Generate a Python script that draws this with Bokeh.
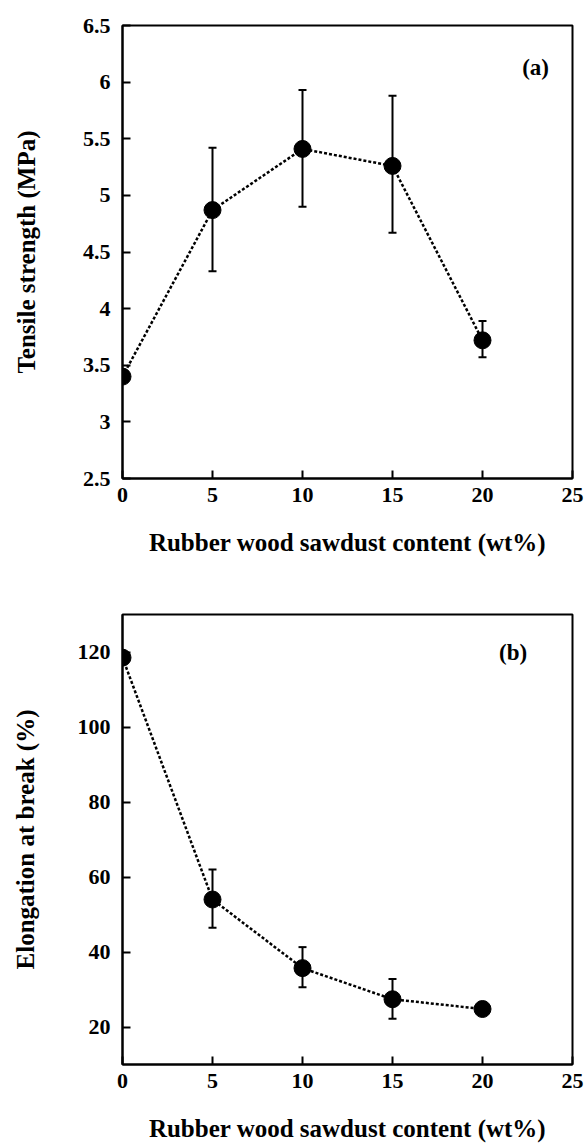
from bokeh.plotting import figure
from bokeh.layouts import column
from bokeh.models import ColumnDataSource, Whisker, TeeHead, FixedTicker, Label, Range1d
from bokeh.embed import file_html
from bokeh.resources import INLINE

# ---- data ----
content = [0, 5, 10, 15, 20]
tensile = [3.40, 4.87, 5.41, 5.26, 3.72]
tensile_low = [3.40, 4.33, 4.90, 4.67, 3.57]
tensile_high = [3.40, 5.42, 5.93, 5.88, 3.89]
elong = [118.5, 54.0, 35.7, 27.4, 24.8]
elong_low = [118.5, 46.5, 30.6, 22.2, 23.6]
elong_high = [118.5, 62.0, 41.3, 32.8, 26.0]

x_ticks = [0, 5, 10, 15, 20, 25]
x_labels = ["0", "5", "10", "15", "20", "25"]
ya_ticks = [2.5, 3, 3.5, 4, 4.5, 5, 5.5, 6, 6.5]
ya_labels = ["2.5", "3", "3.5", "4", "4.5", "5", "5.5", "6", "6.5"]
yb_ticks = [20, 40, 60, 80, 100, 120]
yb_labels = ["20", "40", "60", "80", "100", "120"]

x_title = "Rubber wood sawdust content (wt%)"
ya_title = "Tensile strength (MPa)"
yb_title = "Elongation at break (%)"

FONT = "Liberation Serif"


def style(p, xt, xl, yt, yl, y_standoff):
    p.outline_line_color = "black"
    p.outline_line_width = 2
    p.xgrid.visible = False
    p.ygrid.visible = False
    p.background_fill_color = "white"
    p.border_fill_color = "white"
    for ax in (p.xaxis[0], p.yaxis[0]):
        ax.axis_line_width = 2
        ax.axis_line_color = "black"
        ax.major_tick_in = 8
        ax.major_tick_out = 0
        ax.major_tick_line_width = 2
        ax.minor_tick_in = 0
        ax.minor_tick_out = 0
        ax.major_label_text_font = FONT
        ax.major_label_text_font_style = "bold"
        ax.major_label_text_font_size = "22px"
        ax.major_label_text_color = "black"
        ax.axis_label_text_font = FONT
        ax.axis_label_text_font_style = "bold"
        ax.axis_label_text_font_size = "25px"
        ax.axis_label_text_color = "black"
    p.xaxis[0].ticker = FixedTicker(ticks=xt)
    p.xaxis[0].major_label_overrides = {t: s for t, s in zip(xt, xl)}
    p.yaxis[0].ticker = FixedTicker(ticks=yt)
    p.yaxis[0].major_label_overrides = {t: s for t, s in zip(yt, yl)}
    p.xaxis[0].major_label_standoff = 9
    p.xaxis[0].axis_label_standoff = 24
    p.yaxis[0].major_label_standoff = 12
    p.yaxis[0].axis_label_standoff = y_standoff


def panel(y, low, high, yr, yt, yl, ytitle, tag, tagx, tagy, borders, height, standoff):
    src = ColumnDataSource(dict(x=content, y=y, low=low, high=high))
    p = figure(width=587, height=height, x_range=Range1d(0, 25), y_range=Range1d(*yr),
               output_backend="svg", toolbar_location=None,
               min_border_left=borders[0], min_border_right=borders[1],
               min_border_top=borders[2], min_border_bottom=borders[3],
               x_axis_label=x_title, y_axis_label=ytitle)
    style(p, x_ticks, x_labels, yt, yl, standoff)
    p.line("x", "y", source=src, line_color="black", line_width=2.5, line_dash="3 2")
    w = Whisker(base="x", lower="low", upper="high", source=src,
                line_color="black", line_width=2,
                upper_head=TeeHead(size=8, line_color="black", line_width=2),
                lower_head=TeeHead(size=8, line_color="black", line_width=2))
    p.add_layout(w)
    p.scatter("x", "y", source=src, size=17, fill_color="black", line_color="black")
    p.add_layout(Label(x=tagx, y=tagy, text=tag, text_font=FONT, text_font_style="bold",
                       text_font_size="23px", text_align="center", text_baseline="middle",
                       text_color="black"))
    return p


p1 = panel(tensile, tensile_low, tensile_high, (2.5, 6.5), ya_ticks, ya_labels, ya_title,
           "(a)", 22.95, 6.13, (122, 13, 25, 94), 572, 40)
p2 = panel(elong, elong_low, elong_high, (10, 130), yb_ticks, yb_labels, yb_title,
           "(b)", 21.7, 120.0, (119, 15, 42, 78), 572, 36)

layout = column(p1, p2, spacing=0)
open("out.html", "w").write(file_html(layout, INLINE))
